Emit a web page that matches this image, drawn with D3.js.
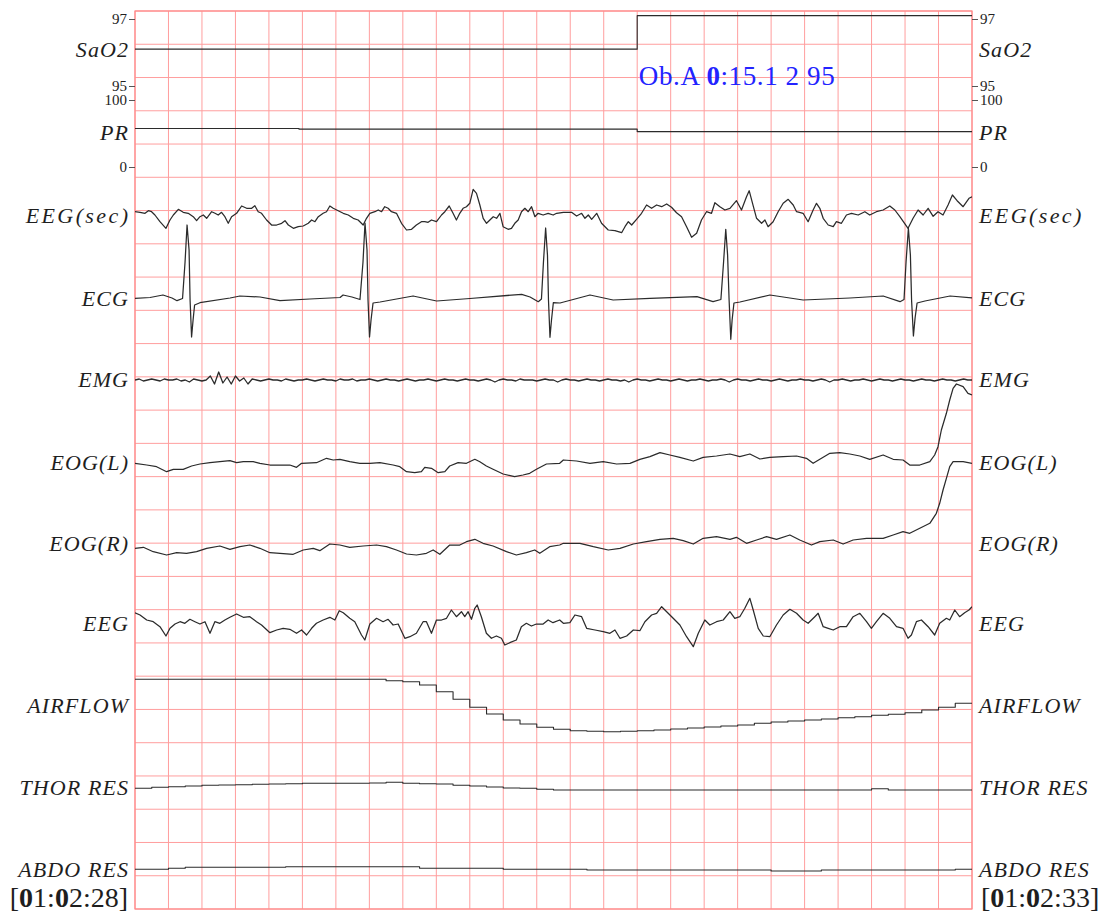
<!DOCTYPE html>
<html><head><meta charset="utf-8">
<script src="https://cdn.jsdelivr.net/npm/d3@7"></script>
<style>html,body{margin:0;padding:0;background:#fff}svg{display:block}</style>
</head><body>
<svg id="chart" width="1104" height="914"></svg>
<script>
// ---------------- DATA ----------------
const startStamp = "[01:02:28]";
const endStamp = "[01:02:33]";
const durationSec = 5;
const gridStepSec = 0.2;
const annotationText = "Ob.A 0:15.1 2 95";

const channelNames = ["SaO2","PR","EEG(sec)","ECG","EMG","EOG(L)","EOG(R)","EEG","AIRFLOW","THOR RES","ABDO RES"];

const sao2Ticks = [95, 97];
const prTicks = [0, 100];

// [seconds, %]
const sao2 = [[0, 96.1], [3.0, 97.1], [5, 97.1]];
// [seconds, bpm]
const pr = [[0, 57.5], [0.98, 56.5], [3.0, 52.8], [5, 52.8]];

// [ms, amplitude]
const eegSec = [[0,3.3],[30,2.7],[60,1.7],[80,4.3],[99,3.3],[119,0],[149,-6.7],[185,-13.3],[209,-5],[229,0],[259,5.7],[288,2.7],[318,1.7],[348,-1.7],[368,-5.7],[388,-1.7],[408,0],[428,-3.3],[458,3.3],[478,1.7],[497,0],[517,2.7],[537,-1.7],[557,-8.3],[577,-1.7],[607,1.7],[637,9],[667,6.7],[697,6.7],[716,9.3],[736,3.3],[756,1.7],[786,-5],[816,-10],[846,-10],[876,-8.3],[896,-5.7],[916,-10],[946,-13.3],[975,-11.7],[1005,-11],[1035,-8.3],[1055,-5],[1075,-6.7],[1095,-1.7],[1124,1.7],[1144,3.3],[1164,9],[1184,6.7],[1214,4.3],[1244,1.7],[1274,0],[1304,-3.3],[1333,-5],[1363,-10],[1383,-3.3],[1403,1.7],[1433,3.3],[1453,5],[1473,3.3],[1492,8.3],[1512,6.7],[1532,3.3],[1562,1.7],[1592,-8.3],[1622,-15],[1652,-14.3],[1681,-10],[1711,-6.7],[1731,-6.7],[1751,-7.3],[1771,-5],[1801,-6.7],[1831,0],[1851,3.3],[1877,9],[1900,1.7],[1920,-5],[1940,1.7],[1960,6.7],[1980,8.3],[2000,11.7],[2020,25.7],[2040,21.7],[2060,10],[2080,-3.3],[2100,-8.3],[2120,-5],[2140,-1.7],[2160,-3.3],[2180,1.7],[2199,-11.7],[2229,-14.3],[2249,-13.3],[2269,-8.3],[2289,-5],[2309,3.3],[2329,6.7],[2349,3.3],[2369,8.3],[2389,-1.7],[2408,1.7],[2438,0],[2468,1.7],[2498,0],[2519,1.7],[2559,2.7],[2608,2.7],[2638,-1],[2668,1.7],[2688,-3.3],[2708,0],[2728,-4.3],[2758,1.7],[2787,-8.3],[2827,-15],[2867,-15.7],[2907,-17.7],[2927,-11.7],[2947,-6.7],[2967,-10],[2996,-4.3],[3026,1.7],[3056,10],[3086,6.7],[3116,10],[3146,8.3],[3176,11],[3205,7.7],[3235,2.3],[3265,-1.7],[3295,-11.7],[3325,-22.3],[3355,-18.3],[3384,-5],[3414,3.3],[3444,1.7],[3464,12.3],[3494,8.3],[3524,5],[3554,6.7],[3593,14.3],[3623,5],[3653,18.3],[3669,24.3],[3689,11.7],[3713,-3.3],[3743,-8.3],[3763,-5],[3782,-11.7],[3812,-6.7],[3842,3.3],[3872,11.7],[3902,15.7],[3932,10],[3952,3.3],[3991,1.7],[4021,-6.7],[4051,5],[4071,11.7],[4091,6.7],[4111,-3.3],[4141,-10],[4171,-11.7],[4190,-6.7],[4220,-8.3],[4250,0],[4280,1.7],[4320,0],[4360,3.3],[4389,0],[4429,3.3],[4469,5],[4509,9],[4539,5],[4569,-1.7],[4618,-13.3],[4648,-3.3],[4678,5],[4708,0],[4738,6.7],[4768,-1.3],[4797,3.3],[4827,0],[4857,10],[4883,20],[4911,14.3],[4947,8.3],[4982,16.7],[5000,18.3]];

const ecg = [[0,-0.5],[90,0.5],[167,3],[221,0],[251,-2.7],[284,-0.5],[299,36],[311,73],[323,48],[329,-2],[338,-39],[347,-22],[356,-7],[388,-4.7],[568,0],[627,2],[747,1],[866,-2.7],[1045,-1],[1225,0.5],[1243,3],[1296,1],[1344,-1.5],[1362,36],[1374,75],[1386,48],[1392,-2],[1401,-39],[1410,-22],[1422,-5],[1464,-4],[1661,2],[1802,-3],[2001,-0.5],[2310,3.7],[2360,1],[2409,-3.7],[2428,-1],[2440,36],[2453,70],[2464,43],[2470,-2],[2479,-39.3],[2488,-22],[2499,-4.7],[2539,-5],[2718,3],[2856,-2],[3077,-0.3],[3357,1.3],[3453,-3.7],[3500,-1.5],[3516,36],[3529,68.7],[3540,43],[3549,-2],[3559,-41.3],[3567,-22],[3578,-5],[3614,-4],[3793,3],[3991,-2],[4271,0],[4469,2],[4570,-3.7],[4594,-1.5],[4606,36],[4620,69.7],[4632,43],[4639,-2],[4650,-38],[4660,-20],[4672,-5],[4719,-3],[4869,2],[5000,0]];

// EMG sampled at 40 Hz
const emgRateHz = 40;
const emgValues = [-1,0,-2,-1,0,-1,-2,0,-1,-1,0,-2,-1,-3,0,-1,-2,-1,3,-5,
7,-4,2,-5,3,-2,1,-5,0,-1,-2,-1,0,-1,-1,-2,0,-1,-2,-1,
-1,0,-1,-2,-1,0,-1,-1,-2,0,-1,-1,0,-2,-1,-1,0,-1,-2,-1,
0,-1,-1,-2,-1,0,-1,-2,-1,-1,0,-1,-2,-1,0,-1,-1,-2,-1,0,
-1,-1,-2,-1,0,-1,-3,-1,0,-1,-1,-2,0,-1,-1,-1,-2,-1,0,-1,
-1,-3,-1,0,-1,-1,-2,-1,0,-1,-1,-2,-1,0,-1,-1,-2,-1,-3,-1,
0,-1,-1,-2,-1,0,-1,-1,-2,-1,0,-1,-2,-1,-1,0,-1,-2,-1,-1,
0,-1,-3,-1,0,-1,-1,-2,-1,0,-1,-1,-2,-1,0,-1,-2,-1,-1,0,
-1,-1,-2,-1,0,-1,-3,-1,-1,0,-1,-2,-1,-1,0,-1,-2,-1,0,-1,
-1,-2,-1,0,-1,-1,-2,-1,0,-1,-1,-2,-1,0,-1,-1,-2,-1,0,-1,-1];

const eogL = [[0,-1.3],[70,-3],[129,-4.7],[189,-9.7],[229,-7.3],[288,-7.3],[338,-4],[388,-2],[448,-0.7],[507,0.3],[567,1.3],[607,-0.7],[647,0.3],[706,0.3],[746,-1.3],[806,-3],[866,-3],[925,-3],[965,-5.3],[995,-1.3],[1084,-0.7],[1144,3.7],[1184,2],[1224,2.7],[1283,0.3],[1343,-1.3],[1403,-1.3],[1463,-0.7],[1542,-3],[1582,-4.7],[1622,-9.7],[1671,-10.7],[1711,-9.7],[1731,-5.3],[1771,-6.3],[1811,-10.7],[1851,-9.7],[1880,-4],[1930,-0.7],[1980,-1.3],[2030,2.7],[2060,0.3],[2099,-4],[2139,-7.3],[2199,-12],[2268,-14.7],[2318,-13],[2358,-11.3],[2398,-7.3],[2458,-2],[2537,-1.3],[2559,2],[2638,1],[2718,-1.3],[2797,0.3],[2877,-2],[2957,-1.3],[3016,2.7],[3076,5.3],[3136,9.3],[3195,7],[3255,4.7],[3335,1],[3394,4.7],[3474,6],[3554,8],[3613,5.3],[3673,8],[3733,3],[3792,4.7],[3872,5.3],[3952,6],[4011,3.7],[4051,-1.3],[4091,2.7],[4151,8.7],[4210,9.3],[4270,8],[4330,6],[4389,2.7],[4469,7],[4529,2.7],[4588,2],[4628,-3],[4688,-3],[4748,0.3],[4777,7],[4797,15.3],[4817,32],[4847,48.7],[4867,62],[4887,73.7],[4907,78],[4947,75.3],[4976,68.7],[5000,67]];

const eogR = [[0,-5.3],[50,-4.3],[109,-8.7],[189,-12],[249,-9.7],[308,-10.3],[368,-8.7],[428,-5.3],[507,-3],[567,-6.3],[627,-3.7],[686,-2],[746,-5.3],[806,-9.7],[866,-10.3],[945,-11.3],[1005,-7],[1065,-5.3],[1104,-7.7],[1164,-1],[1224,-2],[1283,-4.3],[1363,-3],[1443,-2],[1502,-3.7],[1562,-7],[1622,-11],[1681,-12],[1741,-10.3],[1781,-7],[1821,-11.3],[1880,-2],[1940,-2],[1980,1.3],[2030,3.7],[2079,-0.3],[2139,-3],[2219,-8.7],[2278,-12],[2338,-9.7],[2388,-7],[2418,-10.3],[2477,-3.7],[2537,-2],[2559,-0.3],[2658,-0.3],[2738,-3.7],[2827,-7],[2897,-5.3],[2977,-1],[3056,1.3],[3136,3.7],[3215,4.7],[3275,2.3],[3335,-1],[3394,4.7],[3474,6.3],[3554,3.7],[3593,5.7],[3653,-0.3],[3713,3],[3773,6.3],[3832,3.7],[3912,8],[3971,3],[4041,-2],[4091,1.3],[4171,3],[4230,-1],[4290,3],[4370,4.7],[4469,4.7],[4529,8],[4588,11.3],[4628,9.7],[4688,14.7],[4748,19.7],[4787,29.7],[4807,39.7],[4827,53],[4847,64.7],[4867,76.3],[4887,81.3],[4947,81.3],[5000,79.7]];

const eeg = [[0,10.3],[30,8],[70,3],[109,1.3],[149,-3.7],[185,-13],[209,-5.3],[239,-1],[269,1.3],[298,-0.3],[328,3.7],[358,1.3],[388,-1],[418,1.3],[448,-10.3],[477,1.3],[507,-0.3],[537,3],[567,5.7],[607,9],[647,5.7],[686,6.3],[726,1.3],[756,-2],[806,-9.7],[846,-7],[885,-5.3],[925,-6.3],[965,-10.3],[995,-7],[1025,-12],[1055,-5.3],[1084,-0.3],[1124,3],[1164,5.7],[1194,3],[1220,12.3],[1244,10.3],[1283,4.7],[1313,1.3],[1353,-12],[1373,-17],[1403,-1],[1443,4.7],[1482,1.3],[1512,3.7],[1542,-2],[1572,-1],[1612,-15.3],[1642,-13.7],[1681,-10.3],[1721,1.3],[1741,1.3],[1771,-10.3],[1801,3],[1831,3],[1861,4.7],[1890,13],[1920,6.3],[1950,11.3],[1970,6.3],[1990,11.3],[2010,3.7],[2030,14.7],[2044,18],[2069,6.3],[2099,-10.3],[2129,-15.3],[2159,-13],[2189,-15.3],[2209,-22],[2239,-19.7],[2278,-17],[2308,-3.7],[2338,-0.3],[2368,-3],[2398,-1],[2438,-1],[2468,3],[2497,0.3],[2537,3],[2559,-0.3],[2598,0.3],[2628,8],[2668,6.3],[2698,-5.3],[2748,-7],[2797,-8.7],[2837,-10.3],[2867,-7],[2897,-15.3],[2937,-13],[2977,-7],[3016,-7.7],[3046,1.3],[3086,8],[3116,9.7],[3146,16.3],[3176,11.3],[3215,4.7],[3255,-2],[3295,-13.7],[3335,-23.7],[3365,-10.3],[3404,3],[3434,-2],[3474,1.3],[3514,3],[3554,11.3],[3583,4.7],[3613,6.3],[3643,14.7],[3673,24.7],[3693,13],[3723,-5.3],[3753,-13],[3792,-13.7],[3832,-2],[3872,8],[3912,13.7],[3952,9.7],[3991,3],[4021,-0.3],[4061,6.3],[4081,9.7],[4111,-3.7],[4141,-5.3],[4171,-7],[4210,-3.7],[4250,-3.7],[4290,6.3],[4330,9.7],[4370,1.3],[4399,-5.3],[4429,1.3],[4469,9.7],[4509,4.7],[4549,-3.7],[4588,-5.3],[4618,-15.3],[4638,-12],[4668,1.3],[4698,3],[4738,-3.7],[4777,-12],[4807,-0.3],[4847,4.7],[4867,3],[4897,13],[4926,6.3],[4956,10.3],[4982,13],[5000,16.3]];

// Respiratory channels sampled at 10 Hz (held between samples)
const respRateHz = 10;
const airflowValues = [25.7,25.7,25.7,25.7,25.7,25.7,25.7,25.7,25.7,25.7,25.7,25.7,25.7,25.7,25.7,24.3,23.3,20,13.3,5.7,-2.3,-9,-15,-19,-22.3,-24.3,-25.7,-26.3,-26.7,-26.3,-25.7,-25,-24,-23,-22,-21,-20,-18.3,-17,-16,-15,-14,-12.7,-11.7,-10.3,-9.3,-7.7,-5,-2.3,1.7,2.3];
const thorValues = [-1.3,-0.3,0.3,1,1.7,2,2.3,2.7,3,3.3,3.7,3.7,3.7,3.7,4,4.7,3.7,3.3,3,1.7,1,0,-1,-1.3,-2.3,-3,-3,-3,-3,-3,-3,-3,-3,-3,-3,-3,-3,-3,-3,-3,-3,-3,-3,-3,-1.7,-3,-3,-3,-3,-3,-3];
const abdoValues = [-0.3,-0.3,0.7,1.7,1.7,1.7,1.7,1.7,1.7,2.3,2.3,2.3,2.3,2.3,2.3,2.3,2.3,0.7,0.7,0.7,0.7,0.7,-0.3,-0.3,-0.3,-0.3,-0.3,-1,-1,-1,-1,-1,-1,-1,-1,-1,-1,-1,-2,-2,-2,-1,-1,-1,-1,-1,-1,-1,-1,-0.3,-0.3];

// ---------------- LAYOUT / STYLE ----------------
const W = 1104, H = 914;
const P = {left: 135, right: 972, top: 11, bottom: 909};
const gridRows = 27;
const centers = {"SaO2":49,"PR":132,"EEG(sec)":215,"ECG":298,"EMG":379,"EOG(L)":462,"EOG(R)":543,"EEG":623,"AIRFLOW":705,"THOR RES":787,"ABDO RES":869};
const serif = "'Liberation Serif','Times New Roman',Times,serif";
const traceColor = "#2b2b2b";
const gridColor = "#ff9e9e";

const svg = d3.select("#chart");
svg.append("rect").attr("width", W).attr("height", H).attr("fill", "#fff");

const x = d3.scaleLinear().domain([0, durationSec]).range([P.left, P.right]);
const xms = d3.scaleLinear().domain([0, durationSec * 1000]).range([P.left, P.right]);
const gy = d3.scaleLinear().domain([0, gridRows]).range([P.top, P.bottom]);

// grid
const grid = svg.append("g").attr("stroke", gridColor).attr("stroke-width", 1);
grid.selectAll("line.v").data(d3.range(0, durationSec + 1e-6, gridStepSec)).join("line")
  .attr("x1", d => x(d)).attr("x2", d => x(d)).attr("y1", P.top).attr("y2", P.bottom);
grid.selectAll("line.h").data(d3.range(0, gridRows + 1)).join("line")
  .attr("x1", P.left).attr("x2", P.right).attr("y1", d => gy(d)).attr("y2", d => gy(d));
svg.append("rect").attr("x", P.left).attr("y", P.top).attr("width", P.right - P.left).attr("height", P.bottom - P.top)
  .attr("fill", "none").attr("stroke", "#ff8a8a").attr("stroke-width", 1.2);

svg.append("clipPath").attr("id", "clip").append("rect")
  .attr("x", P.left).attr("y", P.top - 2).attr("width", P.right - P.left).attr("height", P.bottom - P.top + 4);
const traces = svg.append("g").attr("clip-path", "url(#clip)").attr("fill", "none")
  .attr("stroke", traceColor).attr("stroke-width", 1.25).attr("stroke-linejoin", "round");

function ampScale(name) {
  const c = centers[name];
  return d3.scaleLinear().domain([-100, 100]).range([c + 100, c - 100]);
}

// SaO2 & PR scales/axes
const ySao2 = d3.scaleLinear().domain([95, 97]).range([86, 19]);
const yPr = d3.scaleLinear().domain([0, 100]).range([167, 100]);

traces.append("path").datum(sao2).attr("stroke-width", 1.1)
  .attr("d", d3.line().x(d => x(d[0])).y(d => ySao2(d[1])).curve(d3.curveStepAfter));
traces.append("path").datum(pr).attr("stroke-width", 1.1)
  .attr("d", d3.line().x(d => x(d[0])).y(d => yPr(d[1])).curve(d3.curveStepAfter));

function drawPairs(name, data) {
  const y = ampScale(name);
  traces.append("path").datum(data).attr("d", d3.line().x(d => xms(d[0])).y(d => y(d[1])));
}
drawPairs("EEG(sec)", eegSec);
drawPairs("ECG", ecg);
drawPairs("EOG(L)", eogL);
drawPairs("EOG(R)", eogR);
drawPairs("EEG", eeg);

function drawSampled(name, values, rate, curve, width) {
  const y = ampScale(name);
  traces.append("path").datum(values).attr("stroke-width", width)
    .attr("d", d3.line().x((d, i) => x(i / rate)).y(d => y(d)).curve(curve));
}
drawSampled("EMG", emgValues, emgRateHz, d3.curveLinear, 1.3);
drawSampled("AIRFLOW", airflowValues, respRateHz, d3.curveStepAfter, 1.1);
drawSampled("THOR RES", thorValues, respRateHz, d3.curveStepAfter, 1.1);
drawSampled("ABDO RES", abdoValues, respRateHz, d3.curveStepAfter, 1.1);

// axes for SaO2 and PR
function axisPair(scale, ticks) {
  const l = svg.append("g").attr("transform", `translate(${P.left},0)`)
    .call(d3.axisLeft(scale).tickValues(ticks).tickSize(6).tickPadding(2).tickFormat(d3.format("d")));
  const r = svg.append("g").attr("transform", `translate(${P.right},0)`)
    .call(d3.axisRight(scale).tickValues(ticks).tickSize(6).tickPadding(2).tickFormat(d3.format("d")));
  [l, r].forEach(g => {
    g.select(".domain").remove();
    g.selectAll("line").attr("stroke", "#555");
    g.selectAll("text").attr("font-family", serif).attr("font-size", 15).attr("fill", "#222");
  });
}
axisPair(ySao2, sao2Ticks);
axisPair(yPr, prTicks);

// channel labels
const labelSpacing = d => d === "EEG(sec)" ? 2.4 : 1.1;
const lab = svg.append("g").attr("font-family", serif).attr("font-style", "italic").attr("font-size", 22).attr("fill", "#1e1e1e");
lab.selectAll("text.l").data(channelNames).join("text")
  .attr("x", d => P.left - 7 + labelSpacing(d)).attr("y", d => centers[d]).attr("dy", "0.35em")
  .attr("letter-spacing", labelSpacing).attr("text-anchor", "end").text(d => d);
lab.selectAll("text.r").data(channelNames).join("text")
  .attr("x", P.right + 7).attr("y", d => centers[d]).attr("dy", "0.35em")
  .attr("letter-spacing", labelSpacing).attr("text-anchor", "start").text(d => d);

// text with bold zeros
function boldZeroText(g, str) {
  const parts = str.split(/(0)/).filter(s => s.length);
  g.selectAll("tspan").data(parts).join("tspan")
    .attr("font-weight", d => d === "0" ? "bold" : "normal").text(d => d);
}
const ts1 = svg.append("text").attr("x", P.left - 7).attr("y", 907).attr("text-anchor", "end")
  .attr("font-family", serif).attr("font-size", 28).attr("fill", "#1e1e1e");
boldZeroText(ts1, startStamp);
const ts2 = svg.append("text").attr("x", P.right + 9).attr("y", 907).attr("text-anchor", "start")
  .attr("font-family", serif).attr("font-size", 28).attr("fill", "#1e1e1e");
boldZeroText(ts2, endStamp);

const ann = svg.append("text").attr("x", x(3.01)).attr("y", 85).attr("font-family", serif)
  .attr("font-size", 27).attr("letter-spacing", 0.6).attr("fill", "#2323ff");
boldZeroText(ann, annotationText);
</script>
</body></html>
